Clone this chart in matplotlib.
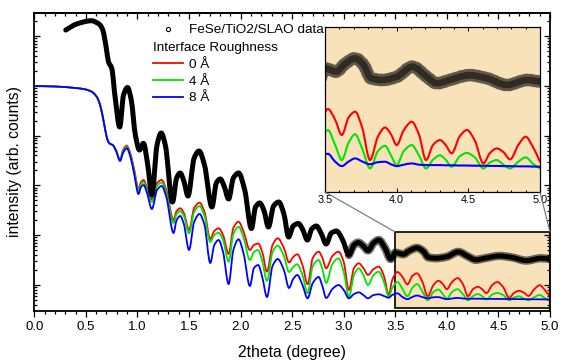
import numpy as np
import matplotlib
matplotlib.use("Agg")
import matplotlib.pyplot as plt
from matplotlib.patches import Rectangle, ConnectionPatch, PathPatch
from matplotlib.path import Path
from matplotlib.ticker import MultipleLocator, LogLocator, NullFormatter, FormatStrFormatter
from matplotlib.lines import Line2D

plt.rcParams['font.family'] = ['Liberation Sans', 'DejaVu Sans']

# ---------------- data (log10 of intensity, arb. units) ----------------
data_x = [0.305, 0.41, 0.557, 0.606, 0.638, 0.664, 0.696, 0.719, 0.751, 0.783,
          0.828, 0.865, 0.904, 0.94, 0.98, 1.02, 1.058, 1.10, 1.14, 1.19,
          1.23, 1.27, 1.34, 1.38, 1.414, 1.45, 1.49, 1.55, 1.597, 1.65,
          1.722, 1.765, 1.803, 1.84, 1.884, 1.93, 1.981, 2.04, 2.105, 2.145,
          2.185, 2.225, 2.27, 2.32, 2.37, 2.42, 2.466, 2.51, 2.56, 2.60,
          2.648, 2.69, 2.735, 2.78, 2.83, 2.88, 2.93, 2.99, 3.05, 3.10,
          3.14, 3.19, 3.235, 3.29, 3.34, 3.40, 3.455, 3.5, 3.58, 3.63,
          3.71, 3.77, 3.82, 3.90, 4.0, 4.11, 4.21, 4.28, 4.37, 4.51,
          4.63, 4.77, 4.91, 5.0]
data_log = [5.120, 5.241, 5.307, 5.267, 5.221, 5.120, 4.785, 4.484, 4.351, 3.781,
            3.173, 3.815, 3.966, 3.715, 3.012, 2.711, 2.845, 2.410, 1.807, 2.811,
            3.052, 2.811, 1.667, 2.149, 2.249, 2.088, 1.787, 2.550, 2.691, 2.410,
            1.566, 2.048, 2.129, 1.988, 1.727, 2.149, 2.249, 1.908, 1.135, 1.566,
            1.647, 1.506, 1.165, 1.586, 1.667, 1.426, 0.964, 1.185, 1.235, 1.125,
            0.904, 1.125, 1.185, 1.044, 0.823, 1.044, 1.084, 0.904, 0.602, 0.803,
            0.853, 0.783, 0.693, 0.843, 0.904, 0.743, 0.522, 0.649, 0.617, 0.681,
            0.745, 0.681, 0.554, 0.538, 0.568, 0.665, 0.568, 0.506, 0.538, 0.584,
            0.554, 0.490, 0.538, 0.522]

model_x = [0.0, 0.2, 0.4, 0.5, 0.56, 0.60, 0.625, 0.65, 0.67, 0.69, 0.71, 0.73, 0.76, 0.79,
           0.832, 0.86, 0.897, 0.93, 0.97, 1.01, 1.035, 1.06, 1.09, 1.14,
           1.19, 1.235, 1.28, 1.35, 1.38, 1.415, 1.45, 1.50, 1.55, 1.602,
           1.65, 1.706, 1.745, 1.787, 1.83, 1.884, 1.93, 1.98, 2.03, 2.09,
           2.13, 2.17, 2.21, 2.256, 2.31, 2.36, 2.42, 2.47, 2.51, 2.55,
           2.60, 2.65, 2.70, 2.757, 2.79, 2.83, 2.89, 2.95, 3.00, 3.05,
           3.10, 3.146, 3.19, 3.235, 3.29, 3.34, 3.39, 3.437, 3.47, 3.52,
           3.57, 3.617, 3.665, 3.71, 3.76, 3.814, 3.87, 3.919, 3.96, 4.0,
           4.05, 4.105, 4.155, 4.205, 4.255, 4.302, 4.34, 4.384, 4.44, 4.49,
           4.545, 4.605, 4.65, 4.698, 4.745, 4.791, 4.85, 4.9, 4.95, 5.0]

rough0_log = [3.996, 3.986, 3.956, 3.926, 3.876, 3.795, 3.695, 3.514, 3.313, 3.092, 2.912, 2.841, 2.811, 2.711,
              2.520, 2.711, 2.797, 2.651, 2.309, 1.928, 2.068, 2.109, 1.968, 1.721,
              2.048, 2.109, 1.908, 1.305, 1.486, 1.540, 1.446, 1.105, 1.546, 1.653,
              1.466, 0.924, 1.084, 1.139, 1.004, 0.623, 1.145, 1.271, 1.064, 0.703,
              0.803, 0.833, 0.663, 0.267, 0.803, 0.938, 0.743, 0.452, 0.562, 0.617,
              0.402, 0.014, 0.542, 0.669, 0.562, 0.335, 0.582, 0.669, 0.462, -0.100,
              0.341, 0.436, 0.341, 0.201, 0.321, 0.368, 0.181, -0.201, 0.101, 0.261,
              0.161, 0.012, 0.181, 0.235, 0.080, -0.227, 0.000, 0.084, 0.020, -0.084,
              0.060, 0.139, 0.020, -0.227, -0.080, -0.036, -0.080, -0.163, 0.000, 0.060,
              -0.040, -0.259, -0.161, -0.116, -0.151, -0.221, -0.080, -0.004, -0.100, -0.243]

rough4_log = [3.996, 3.986, 3.956, 3.926, 3.876, 3.795, 3.695, 3.514, 3.313, 3.092, 2.912, 2.841, 2.811, 2.711,
              2.510, 2.681, 2.771, 2.621, 2.259, 1.888, 2.018, 2.068, 1.918, 1.667,
              1.988, 2.058, 1.847, 1.245, 1.426, 1.486, 1.386, 1.038, 1.466, 1.586,
              1.386, 0.864, 1.004, 1.050, 0.904, 0.468, 1.024, 1.171, 0.944, 0.502,
              0.663, 0.703, 0.482, 0.080, 0.663, 0.793, 0.582, 0.261, 0.362, 0.416,
              0.201, -0.167, 0.382, 0.502, 0.341, 0.040, 0.422, 0.536, 0.261, -0.235,
              0.201, 0.335, 0.201, 0.000, 0.201, 0.267, 0.060, -0.235, -0.060, 0.060,
              -0.080, -0.227, -0.060, 0.020, -0.120, -0.307, -0.140, -0.090, -0.181, -0.275,
              -0.140, -0.084, -0.181, -0.307, -0.221, -0.181, -0.221, -0.291, -0.191, -0.159,
              -0.201, -0.307, -0.251, -0.227, -0.271, -0.307, -0.241, -0.201, -0.261, -0.307]

rough8_log = [3.996, 3.986, 3.956, 3.926, 3.876, 3.795, 3.695, 3.514, 3.313, 3.092, 2.912, 2.841, 2.811, 2.711,
              2.490, 2.651, 2.745, 2.590, 2.209, 1.827, 1.968, 2.008, 1.868, 1.526,
              1.908, 1.988, 1.767, 1.044, 1.305, 1.386, 1.225, 0.703, 1.265, 1.426,
              1.205, 0.442, 0.803, 0.904, 0.663, 0.020, 0.703, 0.918, 0.623, -0.020,
              0.341, 0.402, 0.161, -0.241, 0.382, 0.522, 0.301, -0.060, 0.121, 0.201,
              0.000, -0.267, 0.040, 0.161, 0.000, -0.261, -0.080, 0.000, -0.100, -0.267,
              -0.181, -0.147, -0.201, -0.267, -0.201, -0.187, -0.221, -0.255, -0.201, -0.167,
              -0.241, -0.285, -0.241, -0.211, -0.241, -0.267, -0.247, -0.243, -0.267, -0.285,
              -0.271, -0.259, -0.271, -0.275, -0.275, -0.275, -0.277, -0.277, -0.279, -0.279,
              -0.281, -0.281, -0.283, -0.283, -0.285, -0.285, -0.287, -0.287, -0.289, -0.291]

data_label = "FeSe/TiO2/SLAO data"
legend_title = "Interface Roughness"
rough_labels = ["0 Å", "4 Å", "8 Å"]
rough_colors = ["#ff0000", "#00e600", "#0000ff"]
xlabel = "2theta (degree)"
ylabel = "intensity (arb. counts)"
noisy_from = 58   # index in data_x from which the measured band becomes visibly noisy


def smooth_path(x, ylog):
    """Smooth Bezier path through the given points (shape-preserving tangents),
    built in (x, log10 y) space and returned in data coordinates."""
    x = np.asarray(x, float)
    t = np.asarray(ylog, float)
    h = np.diff(x)
    s = np.diff(t) / h
    m = np.zeros_like(t)
    for i in range(1, len(t) - 1):
        if s[i - 1] * s[i] > 0:
            w1 = 2 * h[i] + h[i - 1]
            w2 = h[i] + 2 * h[i - 1]
            m[i] = (w1 + w2) / (w1 / s[i - 1] + w2 / s[i])
    m[0], m[-1] = s[0], s[-1]
    verts = [(x[0], t[0])]
    codes = [Path.MOVETO]
    for i in range(len(x) - 1):
        verts += [(x[i] + h[i] / 3, t[i] + m[i] * h[i] / 3),
                  (x[i + 1] - h[i] / 3, t[i + 1] - m[i + 1] * h[i] / 3),
                  (x[i + 1], t[i + 1])]
        codes += [Path.CURVE4] * 3
    verts = np.array(verts)
    verts[:, 1] = 10 ** verts[:, 1]
    return Path(verts, codes)


def draw_curve(axis, x, ylog, **kw):
    patch = PathPatch(smooth_path(x, ylog), fill=False, transform=axis.transData,
                      capstyle="round", joinstyle="round", **kw)
    axis.add_patch(patch)
    return patch


# ---------------- layout ----------------
W, H = 562, 360
fig = plt.figure(figsize=(W / 100, H / 100), dpi=100)
ax = fig.add_axes([34.3 / W, 1 - 311 / H, (550 - 34.3) / W, (311 - 13) / H])

main_ylim = (10 ** -0.522, 10 ** 5.462)
zoom_box = (3.5, 5.0, 10 ** -0.462, 10 ** 1.064)
inset_ylim = (10 ** -0.532, 10 ** 1.044)
wheat = "#f7e2ba"

ax.set_yscale("log")
ax.set_xlim(0, 5)
ax.set_ylim(*main_ylim)

ax.add_patch(Rectangle((zoom_box[0], zoom_box[2]), zoom_box[1] - zoom_box[0],
                       zoom_box[3] - zoom_box[2], facecolor=wheat,
                       edgecolor="black", lw=1.2, zorder=1))

model_logs = [rough0_log, rough4_log, rough8_log]
for ylog, col in zip(model_logs, rough_colors):
    draw_curve(ax, model_x, ylog, edgecolor=col, lw=1.3, zorder=2)
draw_curve(ax, data_x, data_log, edgecolor="black", lw=3.6, zorder=3)
draw_curve(ax, data_x[noisy_from:], data_log[noisy_from:], edgecolor="black",
           lw=6.0, alpha=0.55, zorder=3)

# ticks
ax.xaxis.set_major_locator(MultipleLocator(0.5))
ax.xaxis.set_minor_locator(MultipleLocator(0.1))
ax.xaxis.set_major_formatter(FormatStrFormatter("%.1f"))
ax.yaxis.set_major_locator(LogLocator(base=10, numticks=20))
ax.yaxis.set_minor_locator(LogLocator(base=10, subs=np.arange(2, 10), numticks=20))
ax.yaxis.set_major_formatter(NullFormatter())
ax.yaxis.set_minor_formatter(NullFormatter())
ax.tick_params(axis="x", which="both", direction="out", labelsize=9.5, width=0.9)
ax.tick_params(axis="x", which="major", length=4)
ax.tick_params(axis="x", which="minor", length=2.2)
ax.tick_params(axis="y", which="both", direction="in", left=True, right=True, width=0.9)
ax.tick_params(axis="y", which="major", length=4)
ax.tick_params(axis="y", which="minor", length=2.2)
sec = ax.secondary_xaxis("top")
sec.xaxis.set_major_locator(MultipleLocator(0.5))
sec.xaxis.set_minor_locator(MultipleLocator(0.1))
sec.tick_params(axis="x", which="both", direction="in", labeltop=False, width=0.9)
sec.tick_params(axis="x", which="major", length=4)
sec.tick_params(axis="x", which="minor", length=2.2)
for sp in list(ax.spines.values()) + [sec.spines["top"]]:
    sp.set_linewidth(1.3)

ax.set_xlabel(xlabel, fontsize=11.3, labelpad=8)
ax.set_ylabel(ylabel, fontsize=11.3, labelpad=5)

# legends
data_handle = Line2D([], [], marker="o", ls="none", mfc="none", mec="black", ms=3, mew=0.8)
leg1 = ax.legend([data_handle], [data_label], loc="upper left", bbox_to_anchor=(0.230, 0.963),
                 frameon=False, handlelength=2.27, handletextpad=0.38, borderpad=0,
                 borderaxespad=0, fontsize=9.7)
ax.add_artist(leg1)
line_handles = [Line2D([], [], color=c, lw=1.3) for c in rough_colors]
leg2 = ax.legend(line_handles, rough_labels, title=legend_title, alignment="left",
                 loc="upper left", bbox_to_anchor=(0.230, 0.902), frameon=False,
                 handlelength=2.27, handletextpad=0.38, borderpad=0, borderaxespad=0,
                 fontsize=9.7, title_fontsize=9.7, labelspacing=0.32)

# inset
axins = fig.add_axes([325 / W, 1 - 192 / H, 215 / W, 165 / H])
axins.set_facecolor(wheat)
axins.set_yscale("log")
axins.set_xlim(zoom_box[0], zoom_box[1])
axins.set_ylim(*inset_ylim)
for ylog, col in zip(model_logs, rough_colors):
    draw_curve(axins, model_x, ylog, edgecolor=col, lw=1.5)
draw_curve(axins, data_x, data_log, edgecolor="black", lw=9.5, alpha=0.13)
draw_curve(axins, data_x, data_log, edgecolor="black", lw=9.0, alpha=0.55,
           linestyle=(0, (0.12, 0.33)))
draw_curve(axins, data_x, data_log, edgecolor="black", lw=5.0, alpha=0.5,
           linestyle=(0.1, (0.2, 0.45)))
axins.xaxis.set_major_locator(MultipleLocator(0.5))
axins.xaxis.set_minor_locator(MultipleLocator(0.1))
axins.xaxis.set_major_formatter(FormatStrFormatter("%.1f"))
axins.tick_params(axis="x", which="both", direction="in", top=True, labelsize=7.8,
                  width=0.7, pad=2)
axins.tick_params(axis="x", which="major", length=3)
axins.tick_params(axis="x", which="minor", length=1.6)
axins.yaxis.set_major_locator(plt.NullLocator())
axins.yaxis.set_minor_locator(plt.NullLocator())
for sp in axins.spines.values():
    sp.set_linewidth(0.9)

for ax_x, box_x in ((0, zoom_box[0]), (1, zoom_box[1])):
    con = ConnectionPatch(xyA=(ax_x, 0), coordsA=axins.transAxes,
                          xyB=(box_x, zoom_box[3]), coordsB=ax.transData,
                          color="#707070", lw=0.8)
    fig.add_artist(con)

fig.savefig("out.png", dpi=100)
